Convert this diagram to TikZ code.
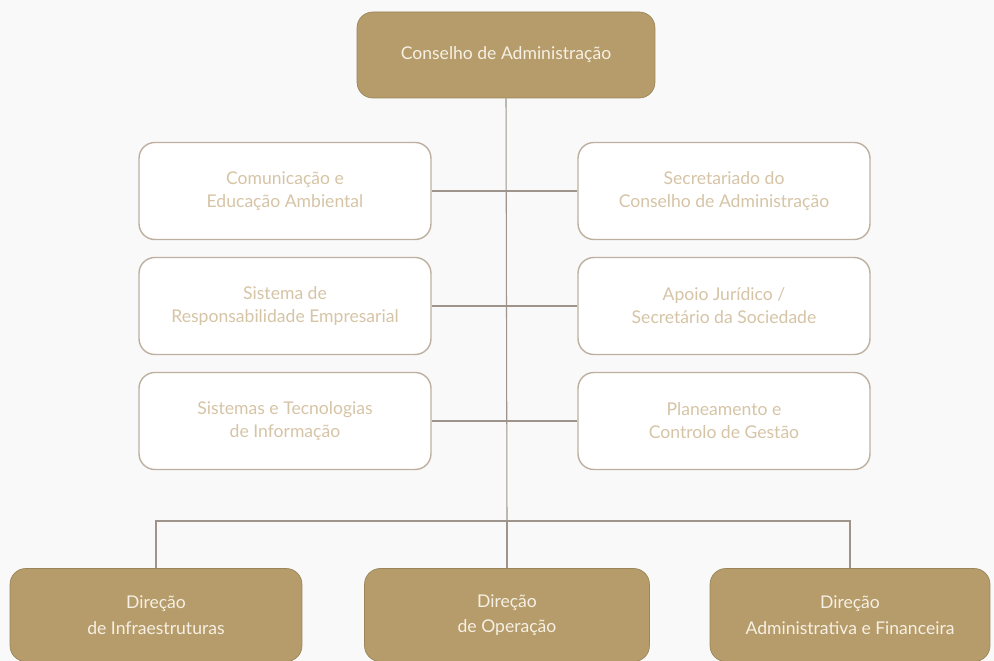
\documentclass[tikz,border=0pt]{standalone}
\usepackage{fontspec}
\setmainfont{Lato}
\definecolor{gold}{RGB}{182,156,106}
\definecolor{goldtext}{RGB}{214,196,166}
\definecolor{rim}{RGB}{190,176,160}
\definecolor{wire}{RGB}{158,148,140}
\definecolor{paper}{RGB}{249,249,249}
\definecolor{cream}{RGB}{246,240,228}

\tikzset{
  headbox/.style={rectangle, rounded corners=9pt, fill=gold, draw=gold!85!black,
    text=cream, align=center, font=\fontsize{10}{14.5}\selectfont},
  staffbox/.style={rectangle, rounded corners=9pt, fill=white, draw=rim, line width=0.8pt,
    text=goldtext, align=center, minimum width=5.84cm, minimum height=1.94cm,
    font=\fontsize{10}{13}\selectfont},
  link/.style={draw=wire, line width=0.6pt}
}

\begin{document}
\begin{tikzpicture}[x=0.02cm, y=-0.02cm]
  \useasboundingbox[fill=paper] (0,0) rectangle (994,661);

  % board
  \node[headbox, minimum width=5.96cm, minimum height=1.72cm] (board) at (506,55)
    {Conselho de Administração};

  % staff units, left column
  \node[staffbox] (com) at (285,191) {Comunicação e\\Educação Ambiental};
  \node[staffbox] (sre) at (285,306) {Sistema de\\Responsabilidade Empresarial};
  \node[staffbox] (sti) at (285,421) {Sistemas e Tecnologias\\de Informação};

  % staff units, right column
  \node[staffbox] (sec) at (724,191) {Secretariado do\\Conselho de Administração};
  \node[staffbox] (jur) at (724,306) {Apoio Jurídico /\\Secretário da Sociedade};
  \node[staffbox] (pcg) at (724,421) {Planeamento e\\Controlo de Gestão};

  % directorates
  \node[headbox, minimum width=5.84cm, minimum height=1.86cm] (dinf) at (156,615)
    {Direção\\de Infraestruturas};
  \node[headbox, minimum width=5.7cm, minimum height=1.86cm] (dop) at (507,615)
    {Direção\\de Operação};
  \node[headbox, minimum width=5.6cm, minimum height=1.86cm] (daf) at (850,615)
    {Direção\\Administrativa e Financeira};

  \coordinate (bus) at (507,521);

  % spine and branches
  \draw[link] (board.south) -- (bus);
  \foreach \n in {com,sre,sti}
    \draw[link] (\n.east) -- (\n.east -| board.south);
  \foreach \n in {sec,jur,pcg}
    \draw[link] (\n.west) -- (\n.west -| board.south);
  \draw[link] (dinf.north) |- (bus) -| (daf.north);
  \draw[link] (bus) -- (dop.north);
\end{tikzpicture}
\end{document}
